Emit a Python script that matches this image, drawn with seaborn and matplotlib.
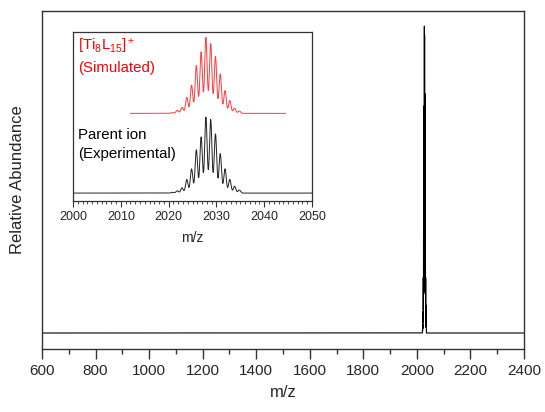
import numpy as np
import pandas as pd
import seaborn as sns
import matplotlib.pyplot as plt
from matplotlib.ticker import MultipleLocator

# isotope peaks (m/z) and relative intensities
peak_mz = [2020.8, 2021.8, 2022.8, 2023.8, 2024.8, 2025.8, 2026.8, 2027.8,
           2028.8, 2029.8, 2030.8, 2031.8, 2032.8, 2033.8, 2034.8]
exp_int = [1, 3, 7, 18, 32, 57, 74, 100, 97, 78, 52, 32, 18, 9, 4]
sim_int = [1, 4, 8, 21, 37, 63, 81, 100, 92, 75, 52, 30, 17, 7, 3]

peak_width = 0.26      # gaussian sigma used to draw each peak
sim_offset = 105       # vertical offset of the simulated trace in the inset
sim_range = (2012, 2044.5)

sns.set_style('ticks')
plt.rcParams['font.family'] = ['Liberation Sans', 'DejaVu Sans']
plt.rcParams['mathtext.default'] = 'regular'


def profile(x, mz, inten):
    y = np.zeros_like(x)
    for m, h in zip(mz, inten):
        y += h * np.exp(-(x - m) ** 2 / (2 * peak_width ** 2))
    return y / y.max() * max(inten)


x_full = np.sort(np.concatenate([np.linspace(600, 2400, 1801), np.linspace(2010, 2050, 4001)]))
df_main = pd.DataFrame({'mz': x_full, 'ab': profile(x_full, peak_mz, exp_int)})

x_exp = np.linspace(2000, 2050, 5001)
df_exp = pd.DataFrame({'mz': x_exp, 'ab': profile(x_exp, peak_mz, exp_int)})
x_sim = np.linspace(sim_range[0], sim_range[1], 4001)
df_sim = pd.DataFrame({'mz': x_sim, 'ab': profile(x_sim, peak_mz, sim_int) + sim_offset})

fig = plt.figure(figsize=(5.45, 4.12), dpi=100)
ax = fig.add_axes([0.077, 0.153, 0.8845, 0.82])
sns.lineplot(data=df_main, x='mz', y='ab', ax=ax, color='black', lw=0.8, estimator=None, sort=False)
ax.set_xlim(600, 2400)
ax.set_ylim(-5.2, 104.9)
ax.xaxis.set_major_locator(MultipleLocator(200))
ax.xaxis.set_minor_locator(MultipleLocator(100))
ax.tick_params(axis='x', which='major', direction='out', length=7, width=1, labelsize=11, pad=4, color='#333333')
ax.tick_params(axis='x', which='minor', direction='out', length=3.5, width=1, color='#333333')
ax.set_yticks([])
ax.set_xlabel('m/z', fontsize=12, labelpad=5)
ax.set_ylabel('Relative Abundance', fontsize=12, labelpad=12)
for s in ax.spines.values():
    s.set_visible(True)
    s.set_color('#333333')
    s.set_linewidth(1.0)

# inset
ins = fig.add_axes([0.134, 0.512, 0.4385, 0.410])
sns.lineplot(data=df_exp, x='mz', y='ab', ax=ins, color='#222222', lw=0.7, estimator=None, sort=False)
sns.lineplot(data=df_sim, x='mz', y='ab', ax=ins, color='#ff3b3b', lw=0.7, estimator=None, sort=False)
ins.set_xlim(2000, 2050)
ins.set_ylim(-10.5, 212)
ins.xaxis.set_major_locator(MultipleLocator(10))
ins.xaxis.set_minor_locator(MultipleLocator(1))
ins.tick_params(axis='x', which='major', direction='out', length=4, width=0.8, labelsize=9, pad=3, color='#333333')
ins.tick_params(axis='x', which='minor', direction='out', length=2.2, width=0.6, color='#333333')
ins.set_yticks([])
ins.set_xlabel('m/z', fontsize=10, labelpad=6)
ins.set_ylabel('')
for s in ins.spines.values():
    s.set_visible(True)
    s.set_color('#333333')
    s.set_linewidth(0.9)

ins.text(0.02, 0.97, '[Ti$_8$L$_{15}$]$^+$\n(Simulated)', transform=ins.transAxes, color='red',
         fontsize=10.8, va='top', ha='left', linespacing=1.45)
ins.text(0.02, 0.435, 'Parent ion\n(Experimental)', transform=ins.transAxes, color='black',
         fontsize=10.8, va='top', ha='left', linespacing=1.45)

fig.savefig('out.png', dpi=100)
